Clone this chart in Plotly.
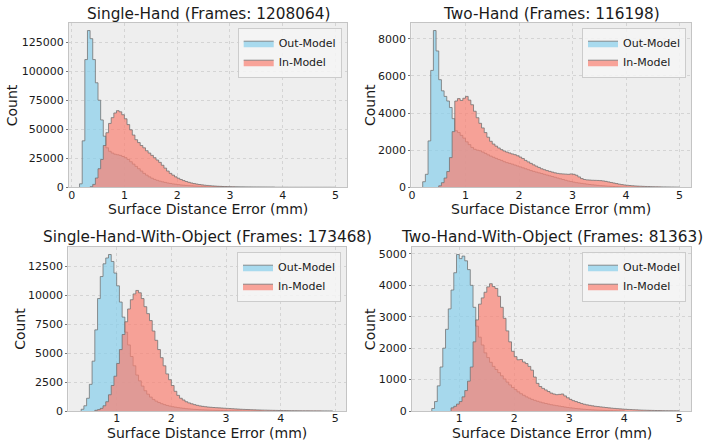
import numpy as np
import plotly.graph_objects as go

# ---------------- data (histogram counts, bin width 0.05 mm) ----------------
BIN_WIDTH = 0.05

titles = ["Single-Hand (Frames: 1208064)", "Two-Hand (Frames: 116198)",
          "Single-Hand-With-Object (Frames: 173468)", "Two-Hand-With-Object (Frames: 81363)"]
series_names = ["Out-Model", "In-Model"]
x_label = "Surface Distance Error (mm)"
y_label = "Count"

# Single-Hand
sh_out_start = 0.15
sh_out = [3000, 40000, 110000, 135000, 128000, 110000, 90000, 75000, 58000, 44000,
          34000, 31000, 29500, 28500, 28000, 27500, 26500, 25500, 24000, 22000,
          20000, 18000, 16000, 14000, 12000, 10500, 9000, 7800, 6800, 6000,
          5300, 4700, 4200, 3700, 3300, 2900, 2600, 2300, 2000, 1800,
          1600, 1400, 1250, 1100, 950, 850, 750, 650, 560, 480,
          420, 360, 310, 270, 230, 200, 170, 150, 130, 115,
          100, 88, 77, 67, 58, 50, 43, 37, 32, 27, 23, 19, 16, 13]
sh_in_start = 0.35
sh_in = [500, 2500, 8000, 16000, 24000, 36000, 47000, 55000, 60000, 64000,
         66000, 65000, 62500, 59000, 54000, 49500, 45000, 41000, 38500, 36000,
         34000, 31500, 29500, 27500, 25500, 23500, 21500, 19000, 16500, 14000,
         12000, 10500, 9000, 7800, 6700, 5800, 5000, 4300, 3700, 3200,
         2800, 2400, 2100, 1800, 1600, 1400, 1200, 1050, 900, 800,
         700, 600, 520, 450, 400, 350, 310, 270, 240, 210,
         185, 165, 145, 130, 115, 100, 90, 80, 70, 62,
         55, 48, 42, 37, 33, 29, 26, 23, 20, 18,
         16, 14, 12, 11, 10, 9, 8, 7, 6, 5, 5, 4, 4]

# Two-Hand
th_out_start = 0.20
th_out = [300, 700, 2500, 6300, 8450, 7350, 5800, 5200, 4900, 4650,
          4300, 3700, 3050, 2950, 2800, 2650, 2450, 2300, 2150, 2050,
          2000, 1970, 1900, 1830, 1750, 1680, 1620, 1560, 1500, 1450,
          1380, 1330, 1290, 1250, 1200, 1150, 1100, 1050, 1000, 950,
          900, 860, 820, 780, 740, 700, 660, 620, 580, 540,
          500, 460, 420, 380, 340, 310, 280, 250, 230, 210,
          190, 170, 150, 135, 120, 105, 90, 80, 70, 60,
          50, 42, 35, 28, 22, 17, 13, 10, 7, 5, 3]
th_in_start = 0.50
th_in = [80, 250, 500, 850, 1600, 3000, 4650, 4780, 4680, 4800,
         4900, 4700, 4450, 4100, 3750, 3450, 3200, 2950, 2700, 2480,
         2330, 2220, 2120, 2030, 1960, 1900, 1850, 1800, 1760, 1700,
         1630, 1550, 1450, 1370, 1290, 1210, 1140, 1070, 1000, 950,
         900, 860, 820, 780, 750, 730, 720, 710, 700, 720,
         700, 650, 560, 470, 420, 400, 390, 380, 375, 370,
         360, 345, 320, 290, 260, 230, 200, 170, 145, 125,
         110, 95, 82, 72, 64, 57, 50, 45, 40, 36,
         32, 28, 25, 22, 20, 18, 16, 14, 12, 10]

# Single-Hand-With-Object
sho_out_start = 0.35
sho_out = [150, 450, 1100, 2300, 4300, 7000, 9700, 11600, 12700, 13200,
           13500, 12900, 11900, 10800, 9400, 8100, 6800, 5700, 4700, 3900,
           3100, 2600, 2150, 1750, 1450, 1200, 1000, 850, 730, 630,
           550, 480, 420, 370, 330, 290, 260, 230, 200, 180,
           160, 140, 125, 110, 100, 90, 80, 70, 62, 55,
           48, 42, 37, 32, 28, 24, 21, 18, 15, 13,
           11, 9, 8, 6, 5, 4]
sho_in_start = 0.60
sho_in = [60, 120, 230, 450, 800, 1400, 2200, 3000, 4100, 5300,
          6600, 7700, 8800, 9600, 10100, 10400, 10200, 9700, 9000, 8400,
          7800, 6900, 6100, 5300, 4600, 3900, 3200, 2700, 2200, 1700,
          1350, 1100, 950, 800, 700, 620, 550, 490, 440, 400,
          370, 340, 320, 300, 285, 270, 255, 240, 225, 210,
          195, 180, 165, 150, 140, 130, 120, 110, 100, 92,
          85, 78, 72, 66, 60, 55, 50, 46, 42, 38,
          35, 32, 29, 26, 24, 22, 20, 18, 16, 15,
          13, 12, 11, 10, 9, 8, 7]

# Two-Hand-With-Object
tho_out_start = 0.50
tho_out = [80, 300, 800, 1400, 2000, 2600, 3250, 3850, 4400, 4980,
           4850, 4930, 4780, 4500, 4000, 3300, 2700, 2350, 2100, 1850,
           1700, 1550, 1420, 1320, 1220, 1120, 1020, 920, 830, 750,
           680, 610, 550, 500, 450, 410, 370, 340, 310, 285,
           260, 240, 220, 200, 185, 170, 155, 140, 125, 112,
           100, 90, 80, 70, 62, 55, 48, 42, 36, 31,
           27, 23, 20, 17, 14, 12, 10, 8, 6, 5]
tho_in_start = 0.85
tho_in = [100, 150, 220, 300, 450, 650, 950, 1400, 2200, 2900,
          3400, 3600, 3780, 3950, 4050, 3960, 3900, 3650, 3300, 2950,
          2550, 2200, 1900, 1730, 1630, 1640, 1560, 1510, 1420, 1300,
          1080, 880, 780, 720, 670, 620, 570, 540, 520, 530,
          540, 480, 420, 370, 330, 300, 270, 240, 215, 195,
          180, 165, 150, 140, 130, 120, 110, 100, 90, 82,
          75, 68, 62, 56, 50, 45, 40, 36, 32, 28,
          25, 22, 20, 18, 16, 14, 12, 11, 10, 9, 8, 7, 6]

panels = [
    (sh_out_start, sh_out, sh_in_start, sh_in),
    (th_out_start, th_out, th_in_start, th_in),
    (sho_out_start, sho_out, sho_in_start, sho_in),
    (tho_out_start, tho_out, tho_in_start, tho_in),
]
y_ticks = [[0, 25000, 50000, 75000, 100000, 125000],
           [0, 2000, 4000, 6000, 8000],
           [0, 2500, 5000, 7500, 10000, 12500],
           [0, 1000, 2000, 3000, 4000, 5000]]
x_ticks = [0, 1, 2, 3, 4, 5]

# ---------------- styling / layout ----------------
W, H = 704, 445
BG = "#eeeeee"
BLUE_FILL = "rgba(135,206,235,0.7)"
RED_FILL = "rgba(250,128,114,0.7)"
EDGE = "rgba(110,110,110,0.75)"
FONT = "DejaVu Sans"
TXT = "#1a1a1a"

# axes boxes in pixels: (left, right, top, bottom)
boxes = [(69, 347, 22.7, 187.3), (411.3, 691.3, 22.7, 187.3),
         (68.3, 346.3, 246.7, 411), (412, 691.3, 246.7, 411)]
x_ranges = [[-0.05, 5.22], [-0.013, 5.22], [0.115, 5.2], [0.14, 5.22]]
ylabel_x = [12.3, 370, 20, 370.3]
xlabel_y = [209, 209, 433, 433]
title_y = [13.5, 13.5, 236.5, 236.5]


def step_xy(start, counts):
    counts = np.asarray(counts, dtype=float)
    edges = start + BIN_WIDTH * np.arange(len(counts) + 1)
    xs = np.concatenate([[edges[0]], edges[:-1], [edges[-1]]])
    ys = np.concatenate([[0.0], counts, [0.0]])
    return xs, ys


fig = go.Figure()
layout = dict(
    width=W, height=H, margin=dict(l=0, r=0, t=0, b=0, autoexpand=False),
    paper_bgcolor="white", plot_bgcolor=BG,
    font=dict(family=FONT, size=11, color=TXT),
    annotations=[], showlegend=True,
)

for i, (os_, oc, is_, ic) in enumerate(panels):
    n = "" if i == 0 else str(i + 1)
    xa, ya = "x" + n, "y" + n
    leg = "legend" + n
    for start, counts, name, fc in [(os_, oc, series_names[0], BLUE_FILL),
                                     (is_, ic, series_names[1], RED_FILL)]:
        xs, ys = step_xy(start, counts)
        fig.add_trace(go.Scatter(
            x=xs, y=ys, mode="lines", line=dict(shape="hv", color=EDGE, width=1),
            fill="tozeroy", fillcolor=fc, name=name, xaxis=xa, yaxis=ya,
            legend=leg, hoverinfo="skip"))
    l, r, t, b = boxes[i]
    ymax = max(max(oc), max(ic)) * 1.05
    axis_common = dict(showline=True, mirror=True, linecolor="#c4c4c4", linewidth=1,
                       showgrid=True, gridcolor="#d4d4d4", griddash="dot", gridwidth=1,
                       zeroline=False, automargin=False, tickfont=dict(size=11, color=TXT))
    layout["xaxis" + n] = dict(
        domain=[l / W, r / W], range=x_ranges[i], anchor=ya,
        ticks="", ticklabelstandoff=-3,
        tickvals=x_ticks, ticktext=[str(v) for v in x_ticks], **axis_common)
    layout["yaxis" + n] = dict(
        domain=[1 - b / H, 1 - t / H], range=[0, ymax], anchor=xa,
        ticks="outside", ticklen=2, tickcolor="#777777",
        tickvals=y_ticks[i], ticktext=[str(v) for v in y_ticks[i]], **axis_common)
    layout[leg] = dict(
        x=(r - 5.3) / W, y=1 - (t + 5) / H, xanchor="right", yanchor="top",
        bgcolor="rgba(244,244,244,0.85)", bordercolor="#cccccc", borderwidth=1,
        font=dict(size=11, color=TXT), itemwidth=30, tracegroupgap=0)
    layout["annotations"] += [
        dict(text=titles[i], x=(l + r) / 2 / W, y=1 - title_y[i] / H,
             xref="paper", yref="paper", xanchor="center", yanchor="middle",
             showarrow=False, font=dict(size=15.3, color=TXT)),
        dict(text=x_label, x=(l + r) / 2 / W, y=1 - xlabel_y[i] / H,
             xref="paper", yref="paper", xanchor="center", yanchor="middle",
             showarrow=False, font=dict(size=14, color=TXT)),
        dict(text=y_label, x=ylabel_x[i] / W, y=1 - (t + b) / 2 / H, textangle=-90,
             xref="paper", yref="paper", xanchor="center", yanchor="middle",
             showarrow=False, font=dict(size=14, color=TXT)),
    ]

fig.update_layout(**layout)
fig.write_html("out.html", config={"displayModeBar": False},
               post_script="document.body.style.margin='0';")
